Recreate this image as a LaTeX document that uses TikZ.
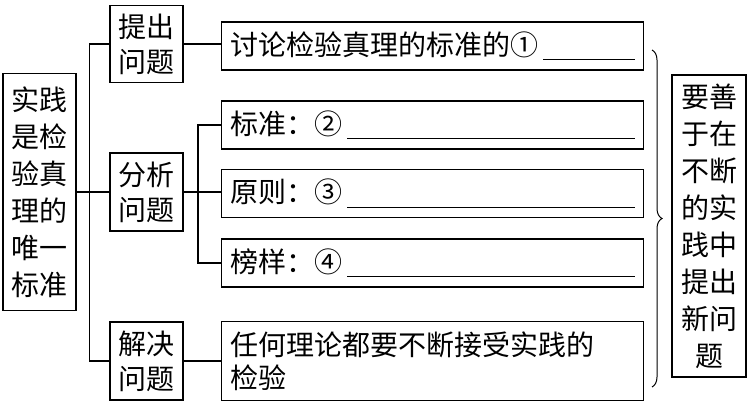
\documentclass[tikz,border=0pt]{standalone}
\usepackage{fontspec}
\setmainfont{Noto Sans CJK SC}
\usetikzlibrary{positioning, calc, decorations.pathreplacing}
\newcommand{\blank}{\leaders\hrule height -4pt depth 5pt\hfill\kern0pt}
\tikzset{>=stealth}

\begin{document}
\begin{tikzpicture}[x=1pt, y=-1pt, line width=1.2pt,
    every node/.style={font=\fontsize{28}{37}\selectfont},
    vbox/.style={draw, align=center, inner sep=0pt},
    leaf/.style={draw, anchor=west, align=left, text width=404pt, inner xsep=9pt, inner ysep=0pt, minimum height=48pt}]
  \useasboundingbox (0,0) rectangle (753,403);
  % left column
  \node[vbox, minimum width=73pt, minimum height=237pt] (root) at (39.5,192) {实践\\是检\\验真\\理的\\唯一\\标准};
  \node[vbox, minimum width=73pt, minimum height=77pt, font=\fontsize{28}{35}\selectfont] (tichu) at (146.5,44) {提出\\问题};
  \node[vbox, minimum width=73pt, minimum height=78pt, font=\fontsize{28}{35}\selectfont] (fenxi) at (146.5,192) {分析\\问题};
  \node[vbox, minimum width=73pt, minimum height=78pt, font=\fontsize{28}{35}\selectfont] (jiejue) at (146.5,361) {解决\\问题};
  % answer boxes
  \node[leaf] (q1) at (221,46) {讨论检验真理的标准的①\,\blank};
  \node[leaf] (q2) at (221,125) {标准：②\,\blank};
  \node[leaf] (q3) at (221,193.5) {原则：③\,\blank};
  \node[leaf] (q4) at (221,263) {榜样：④\,\blank};
  \node[leaf, minimum height=79pt, font=\fontsize{28}{33}\selectfont] (q5) at (221,361) {任何理论都要不断接受实践的\\检验};
  \node[vbox, minimum width=74pt, minimum height=302pt] (sum) at (709,226) {要善\\于在\\不断\\的实\\践中\\提出\\新问\\题};
  % connectors
  \draw (root.east) -- (fenxi.west);
  \draw (tichu.west) -- ++(-20,0) |- (jiejue.west);
  \draw (tichu.east) -- (tichu.east -| q1.west);
  \draw (fenxi.east) -- (fenxi.east -| q3.west);
  \draw (q2.west) -- ++(-23,0) |- (q4.west);
  \draw (jiejue.east) -- (jiejue.east -| q5.west);
  % brace
  \coordinate (b1) at (652,50);
  \coordinate (b2) at (652,387);
  \draw[decorate, decoration={brace, amplitude=10pt}, line width=1pt] (b1) -- (b2);
\end{tikzpicture}
\end{document}
